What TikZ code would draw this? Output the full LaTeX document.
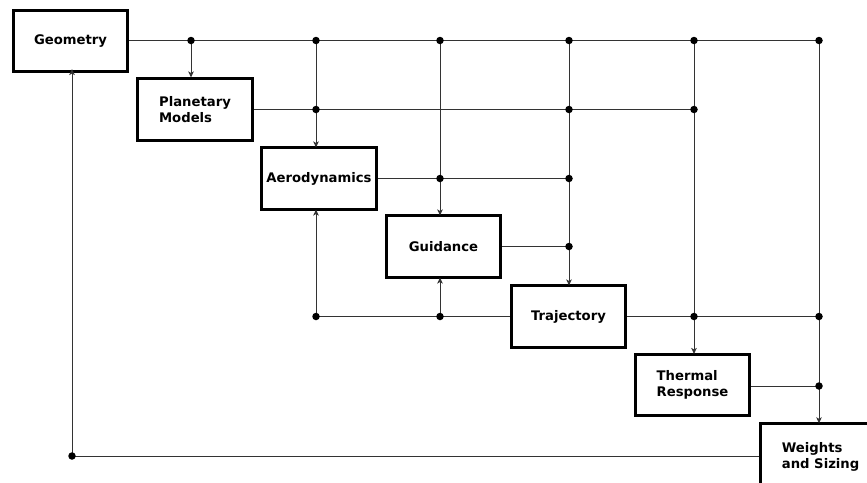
\documentclass[tikz,border=0pt]{standalone}
\usepackage{fontspec}
\setmainfont{DejaVu Sans}
\usetikzlibrary{arrows.meta}
\tikzset{
  blk/.style={draw=black, line width=2.6pt, fill=white, minimum width=114.5pt, minimum height=61.5pt,
    inner sep=0pt, align=left, font=\fontsize{13.2pt}{16pt}\selectfont\bfseries},
  wire/.style={draw=black!80, line width=1pt},
  arr/.style={wire, -{Stealth[length=6pt,width=5.5pt,inset=1.5pt]}},
  dot/.style={circle, fill=black, inner sep=0pt, minimum size=7.5pt}
}
\begin{document}
\begin{tikzpicture}[x=1pt,y=-1pt]
\useasboundingbox (0,0) rectangle (867,482);
\clip (0,0) rectangle (867,482);
% blocks
\node[blk] (geo) at (70.5,41) {Geometry};
\node[blk] (pm) at (195,109.5) {Planetary\\Models};
\node[blk] (aero) at (319,178.5) {Aerodynamics};
\node[blk] (gui) at (443.5,246.5) {Guidance};
\node[blk] (traj) at (568.5,316.5) {Trajectory};
\node[blk] (therm) at (692.5,385) {Thermal\\Response};
\node[blk, anchor=north west, minimum width=120pt, minimum height=66pt] (ws) at (759.3,422.3) {Weights\\and Sizing};
% junction coordinates
\coordinate (a1) at (191,40.5);
\coordinate (a2) at (316,40.5);
\coordinate (a3) at (440,40.5);
\coordinate (a4) at (569,40.5);
\coordinate (a5) at (694,40.5);
\coordinate (a6) at (819,40.5);
\coordinate (b2) at (316,109.5);
\coordinate (b4) at (569,109.5);
\coordinate (b5) at (694,109.5);
\coordinate (c3) at (440,178.5);
\coordinate (c4) at (569,178.5);
\coordinate (d4) at (569,246.5);
\coordinate (e2) at (316,316.5);
\coordinate (e3) at (440,316.5);
\coordinate (e5) at (694,316.5);
\coordinate (e6) at (819,316.5);
\coordinate (f6) at (819,386);
\coordinate (g0) at (72,456);
% wires
\draw[wire] (geo.east |- a1) -- (a6);
\draw[wire] (pm.east) -- (b5);
\draw[wire] (aero.east) -- (c4);
\draw[wire] (gui.east) -- (d4);
\draw[wire] (e2) -- (traj.west);
\draw[wire] (traj.east) -- (e6);
\draw[wire] (therm.east |- f6) -- (f6);
\draw[wire] (ws.west |- g0) -- (g0);
% arrows
\draw[arr] (a1) -- (a1 |- pm.north);
\draw[arr] (a2) -- ([yshift=-1pt]a2 |- aero.north);
\draw[arr] (a3) -- ([yshift=-1pt]a3 |- gui.north);
\draw[arr] (a4) -- ([yshift=-1pt]a4 |- traj.north);
\draw[arr] (a5) -- ([yshift=-1pt]a5 |- therm.north);
\draw[arr] (a6) -- ([yshift=-1pt]a6 |- ws.north);
\draw[arr] (e2) -- ([yshift=1pt]e2 |- aero.south);
\draw[arr] (e3) -- ([yshift=1pt]e3 |- gui.south);
\draw[arr] (g0) -- ([yshift=4pt]g0 |- geo.south);
% dots
\foreach \p in {a1,a2,a3,a4,a5,a6,b2,b4,b5,c3,c4,d4,e2,e3,e5,e6,f6,g0}
  \node[dot] at (\p) {};
\end{tikzpicture}
\end{document}
